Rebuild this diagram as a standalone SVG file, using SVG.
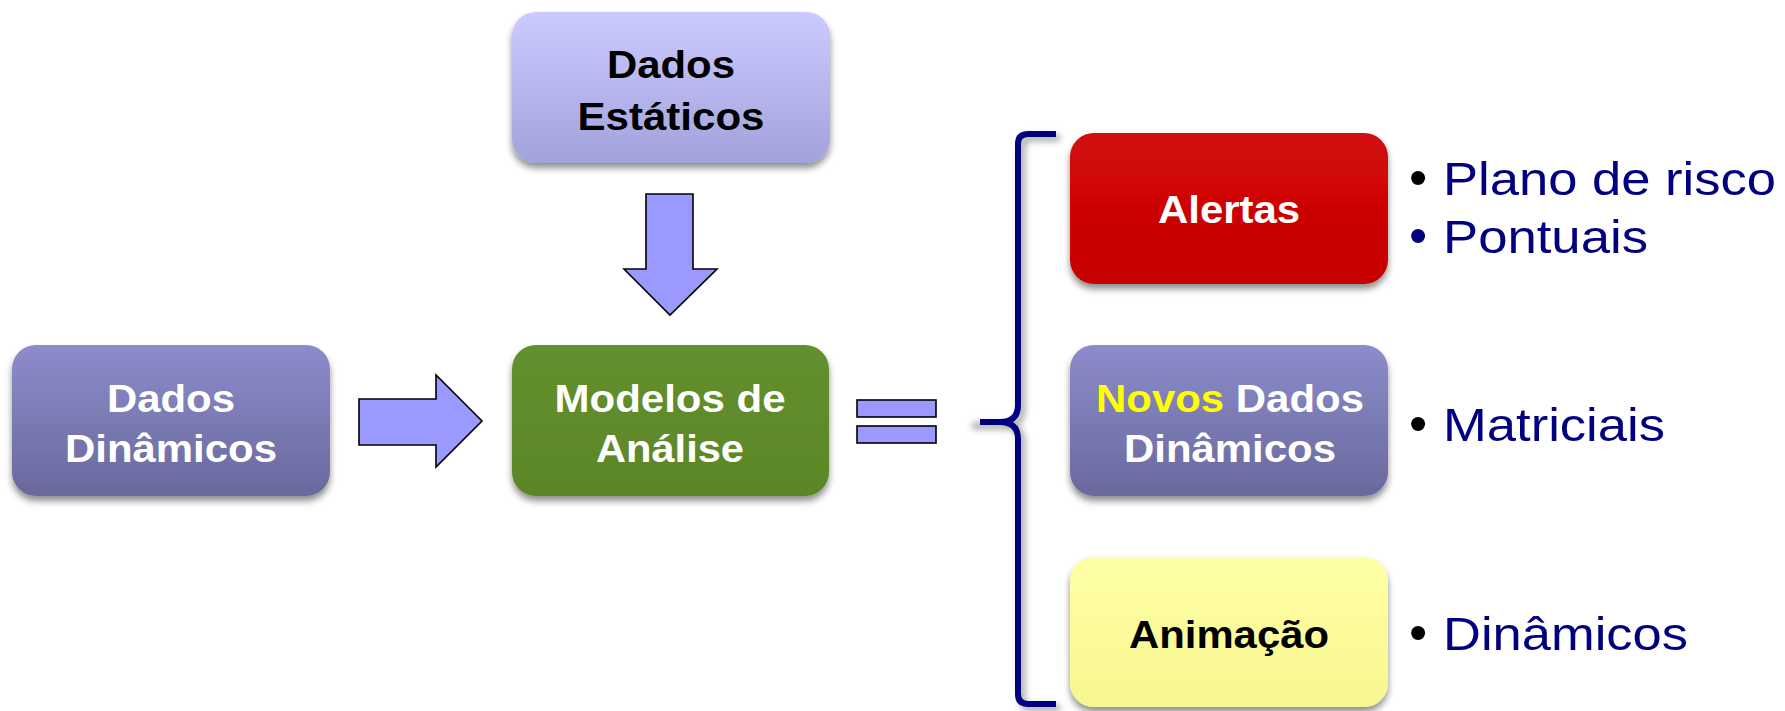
<svg xmlns="http://www.w3.org/2000/svg" width="1785" height="711" viewBox="0 0 1785 711">
  <defs>
    <linearGradient id="gLav" x1="0" y1="0" x2="0" y2="1">
      <stop offset="0" stop-color="#cccbff"/>
      <stop offset="1" stop-color="#a2a2dc"/>
    </linearGradient>
    <linearGradient id="gPur" x1="0" y1="0" x2="0" y2="1">
      <stop offset="0" stop-color="#8c8ccb"/>
      <stop offset="1" stop-color="#69699d"/>
    </linearGradient>
    <linearGradient id="gGrn" x1="0" y1="0" x2="0" y2="1">
      <stop offset="0" stop-color="#63902e"/>
      <stop offset="1" stop-color="#5b8627"/>
    </linearGradient>
    <linearGradient id="gRed" x1="0" y1="0" x2="0" y2="1">
      <stop offset="0" stop-color="#d20808"/>
      <stop offset="1" stop-color="#c60404"/>
    </linearGradient>
    <linearGradient id="gYel" x1="0" y1="0" x2="0" y2="1">
      <stop offset="0" stop-color="#ffffa6"/>
      <stop offset="1" stop-color="#f7f790"/>
    </linearGradient>
    <filter id="shadow" x="-10%" y="-10%" width="120%" height="130%">
      <feGaussianBlur in="SourceAlpha" stdDeviation="3.5"/>
      <feOffset dx="0" dy="5" result="b"/>
      <feComponentTransfer><feFuncA type="linear" slope="0.45"/></feComponentTransfer>
      <feMerge><feMergeNode/><feMergeNode in="SourceGraphic"/></feMerge>
    </filter>
    <filter id="blur" x="-20%" y="-5%" width="140%" height="110%">
      <feGaussianBlur stdDeviation="3"/>
    </filter>
    <style>
      .box { stroke: none; filter: url(#shadow); }
      .lbl { font-family: "Liberation Sans", Arial, sans-serif; font-weight: bold; font-size: 39px; text-anchor: middle; }
      .w { fill: #ffffff; }
      .k { fill: #000000; }
      .bul { font-family: "Liberation Sans", Arial, sans-serif; font-size: 47px; fill: #000080; }
      .dot { font-family: "Liberation Sans", Arial, sans-serif; font-size: 52px; fill: #000000; }
      .arrow { fill: #9999ff; stroke: #000000; stroke-width: 1.6; stroke-linejoin: miter; }
      .brace { fill: none; stroke: #000080; stroke-width: 6; stroke-linecap: butt; stroke-linejoin: round; }
    </style>
  </defs>
  <rect x="0" y="0" width="1785" height="711" fill="#ffffff"/>

  <g id="node-dados-estaticos">
    <rect class="box" x="512" y="12" width="318" height="151" rx="24" fill="url(#gLav)"/>
    <text class="lbl k" x="671" y="78" textLength="128" lengthAdjust="spacingAndGlyphs">Dados</text>
    <text class="lbl k" x="671" y="130" textLength="187" lengthAdjust="spacingAndGlyphs">Estáticos</text>
  </g>

  <g id="node-dados-dinamicos">
    <rect class="box" x="12" y="345" width="318" height="151" rx="24" fill="url(#gPur)"/>
    <text class="lbl w" x="171" y="412" textLength="128" lengthAdjust="spacingAndGlyphs">Dados</text>
    <text class="lbl w" x="171" y="462" textLength="212" lengthAdjust="spacingAndGlyphs">Dinâmicos</text>
  </g>

  <g id="node-modelos">
    <rect class="box" x="512" y="345" width="317" height="151" rx="24" fill="url(#gGrn)"/>
    <text class="lbl w" x="670" y="412" textLength="231" lengthAdjust="spacingAndGlyphs">Modelos de</text>
    <text class="lbl w" x="670" y="462" textLength="148" lengthAdjust="spacingAndGlyphs">Análise</text>
  </g>

  <g id="node-alertas">
    <rect class="box" x="1070" y="133" width="318" height="151" rx="24" fill="url(#gRed)"/>
    <text class="lbl w" x="1229" y="223" textLength="142" lengthAdjust="spacingAndGlyphs">Alertas</text>
  </g>

  <g id="node-novos">
    <rect class="box" x="1070" y="345" width="318" height="151" rx="24" fill="url(#gPur)"/>
    <text class="lbl w" x="1230" y="412" textLength="268" lengthAdjust="spacingAndGlyphs"><tspan fill="#ffff00">Novos</tspan> Dados</text>
    <text class="lbl w" x="1230" y="462" textLength="212" lengthAdjust="spacingAndGlyphs">Dinâmicos</text>
  </g>

  <g id="node-animacao">
    <rect class="box" x="1070" y="557" width="318" height="150" rx="24" fill="url(#gYel)"/>
    <text class="lbl k" x="1229" y="648" textLength="200" lengthAdjust="spacingAndGlyphs">Animação</text>
  </g>

  <g id="bullets">
    <text class="dot" x="1409" y="195">•</text>
    <text class="bul" x="1443" y="195" textLength="333" lengthAdjust="spacingAndGlyphs">Plano de risco</text>
    <text class="dot" x="1409" y="253" style="fill:#000080">•</text>
    <text class="bul" x="1443" y="253" textLength="205" lengthAdjust="spacingAndGlyphs">Pontuais</text>
    <text class="dot" x="1409" y="441">•</text>
    <text class="bul" x="1443" y="441" textLength="222" lengthAdjust="spacingAndGlyphs">Matriciais</text>
    <text class="dot" x="1409" y="650">•</text>
    <text class="bul" x="1443" y="650" textLength="245" lengthAdjust="spacingAndGlyphs">Dinâmicos</text>
  </g>

  <g id="connectors">
    <path class="arrow" d="M646,194 L693,194 L693,269 L717,269 L670,315 L624,269 L646,269 Z"/>
    <path class="arrow" d="M359,399 L436,399 L436,375 L482,421 L436,467 L436,445 L359,445 Z"/>
    <rect class="arrow" x="857" y="400" width="79" height="17"/>
    <rect class="arrow" x="857" y="426" width="79" height="17"/>
    <path d="M1056,134 L1028,134 Q1018,134 1018,144 L1018,405 Q1018,422 1000,422 L968,422 M1000,422 Q1018,422 1018,439 L1018,694 Q1018,704 1028,704 L1056,704" fill="none" stroke="#9a9a9a" stroke-width="7" transform="translate(4,4)" filter="url(#blur)" opacity="0.8"/>
    <path class="brace" d="M1056,134 L1028,134 Q1018,134 1018,144 L1018,405 Q1018,422 1000,422 L980,422 M1000,422 Q1018,422 1018,439 L1018,694 Q1018,704 1028,704 L1056,704"/>
  </g>
</svg>
